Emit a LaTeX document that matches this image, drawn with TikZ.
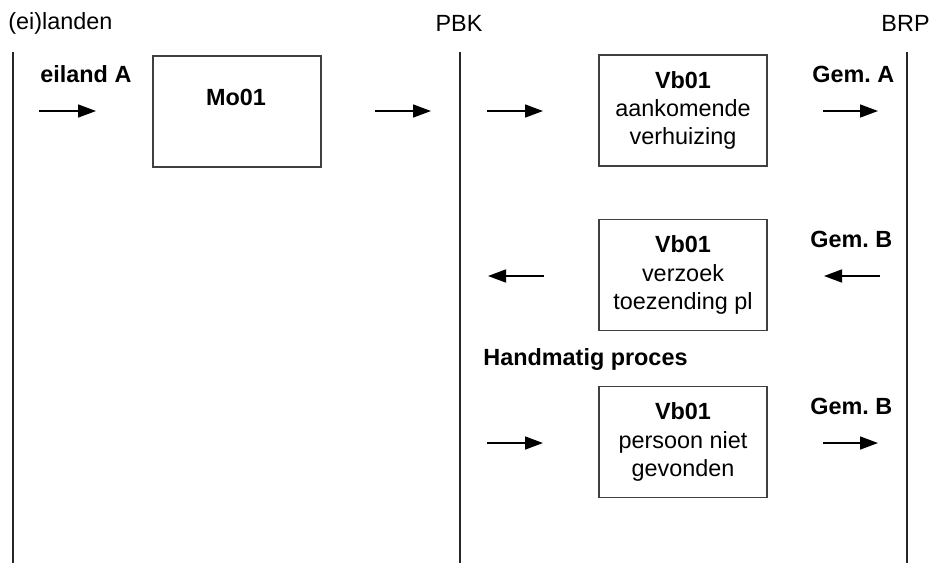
\documentclass[tikz,border=0pt]{standalone}
\usepackage{fontspec}
\setmainfont{Liberation Sans}
\usetikzlibrary{arrows.meta}
\begin{document}
\begin{tikzpicture}[x=0.5pt,y=-0.5pt,
  every node/.style={font=\fontsize{11.7}{14}\selectfont, inner sep=0pt},
  lane/.style={draw=black!85, line width=0.7pt},
  msgbox/.style={draw=black!75, line width=0.9pt, minimum width=84pt, minimum height=55.5pt, align=center, font=\fontsize{11.7}{14.2}\selectfont},
  lbl/.style={font=\fontsize{11.7}{14}\selectfont\bfseries},
  flow/.style={line width=0.75pt, -{Triangle[length=9pt,width=6.5pt]}}]
\useasboundingbox (0,0) rectangle (931,563);
% headings
\node[anchor=west] (hl) at (8,23) {(ei)landen};
\node (hp) at (459,23) {PBK};
\node[anchor=east] (hb) at (930,23) {BRP};
% lanes
\coordinate (l1t) at (13,52); \coordinate (l1b) at (13,563);
\coordinate (l2t) at (460,52); \coordinate (l2b) at (460,563);
\coordinate (l3t) at (907,52); \coordinate (l3b) at (907,563);
\draw[lane] (l1t) -- (l1b);
\draw[lane] (l2t) -- (l2b);
\draw[lane] (l3t) -- (l3b);
% boxes
\node[msgbox, anchor=north west] (mo) at (152,55) {};
\node[lbl] (motxt) at (236,97) {Mo01};
\node[msgbox] (vb1) at (683,110.5) {\textbf{Vb01}\\aankomende\\verhuizing};
\node[msgbox] (vb2) at (683,275) {\textbf{Vb01}\\verzoek\\toezending pl};
\node[msgbox] (vb3) at (683,442) {\textbf{Vb01}\\persoon niet\\gevonden};
% labels
\node[lbl, anchor=west] (eA) at (40,74) {eiland A};
\node[lbl, anchor=west] (gA) at (812,74) {Gem.\ A};
\node[lbl, anchor=west] (gB1) at (810,239) {Gem.\ B};
\node[lbl, anchor=west] (hm) at (483,359) {Handmatig proces};
\node[lbl, anchor=west] (gB2) at (810,406) {Gem.\ B};
% arrow ends
\coordinate (a1s) at (39,111);  \coordinate (a1e) at (96,111);
\coordinate (a2s) at (375,111); \coordinate (a2e) at (431,111);
\coordinate (a3s) at (487,111); \coordinate (a3e) at (543,111);
\coordinate (a4s) at (823,111); \coordinate (a4e) at (878,111);
\coordinate (a5s) at (544,276); \coordinate (a5e) at (488,276);
\coordinate (a6s) at (880,276); \coordinate (a6e) at (824,276);
\coordinate (a7s) at (487,443); \coordinate (a7e) at (543,443);
\coordinate (a8s) at (823,443); \coordinate (a8e) at (878,443);
\foreach \i in {1,...,8} {\draw[flow] (a\i s) -- (a\i e);}
\end{tikzpicture}
\end{document}
